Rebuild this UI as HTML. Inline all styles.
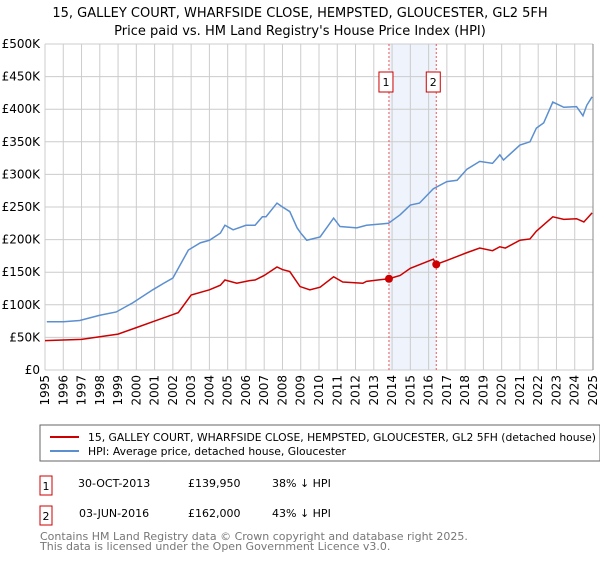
<!DOCTYPE html>
<html><head><meta charset="utf-8"><style>
body{margin:0;background:#fff;font-family:"Liberation Sans","DejaVu Sans",sans-serif;}
svg text{font-family:"DejaVu Sans","Liberation Sans",sans-serif;}
</style></head><body>
<svg width="600" height="560" xmlns="http://www.w3.org/2000/svg">
<text x="300" y="17" font-size="13" text-anchor="middle" fill="#000">15, GALLEY COURT, WHARFSIDE CLOSE, HEMPSTED, GLOUCESTER, GL2 5FH</text>
<text x="300" y="35" font-size="13" text-anchor="middle" fill="#000">Price paid vs. HM Land Registry's House Price Index (HPI)</text>
<g id="plot"></g>
<rect x="40" y="425" width="560" height="36" fill="#fff" stroke="#666"/>
<line x1="50" y1="437" x2="79" y2="437" stroke="#cc0000" stroke-width="2"/>
<text x="88" y="441" font-size="11" textLength="508" lengthAdjust="spacingAndGlyphs">15, GALLEY COURT, WHARFSIDE CLOSE, HEMPSTED, GLOUCESTER, GL2 5FH (detached house)</text>
<line x1="50" y1="451" x2="79" y2="451" stroke="#5b8fd0" stroke-width="2"/>
<text x="88" y="455" font-size="11" textLength="258" lengthAdjust="spacingAndGlyphs">HPI: Average price, detached house, Gloucester</text>
<g font-size="11">
<rect x="40" y="476" width="12" height="19" fill="#fff" stroke="#cc0000"/>
<text x="46" y="490" text-anchor="middle">1</text>
<text x="78" y="487">30-OCT-2013</text><text x="188" y="487">£139,950</text><text x="272" y="487">38% ↓ HPI</text>
</g>
<g font-size="11">
<rect x="40" y="506" width="12" height="19" fill="#fff" stroke="#cc0000"/>
<text x="46" y="520" text-anchor="middle">2</text>
<text x="79" y="517">03-JUN-2016</text><text x="188" y="517">£162,000</text><text x="272" y="517">43% ↓ HPI</text>
</g>
<text x="40" y="540" font-size="11" fill="#777">Contains HM Land Registry data © Crown copyright and database right 2025.</text>
<text x="40" y="550" font-size="11" fill="#777">This data is licensed under the Open Government Licence v3.0.</text>
</svg>
<script>
const hpiYears=[1995.1,1996,1996.9,1998,1998.9,1999.8,2000.9,2001.5,2002,2002.85,2003.5,2004,2004.6,2004.85,2005.3,2006,2006.5,2006.9,2007.1,2007.7,2008,2008.4,2008.8,2009,2009.33,2010.06,2010.8,2011.15,2012.07,2012.6,2013.8,2014.44,2015,2015.5,2016.26,2017,2017.56,2018.1,2018.8,2019.5,2019.9,2020.1,2021,2021.55,2021.9,2022.3,2022.8,2023.4,2024.1,2024.45,2024.66,2024.95];
const hpiValues=[74,74,76,84,89,103,123,133,141,184,195,199,210,222,215,222,222,235,235,256,250,243,218,210,199,204,233,220,218,222,225,238,253,256,278,289,291,308,320,317,330,322,345,350,371,379,411,403,404,390,406,419];
const propYears=[1995,1996,1997,1998,1999,2000,2001,2002,2002.3,2003,2004,2004.6,2004.85,2005.5,2006.2,2006.5,2007,2007.7,2008,2008.4,2008.96,2009.5,2010.06,2010.8,2011.3,2012.4,2012.6,2013.83,2014.44,2015,2016.26,2016.42,2017,2018.1,2018.8,2019.5,2019.9,2020.2,2021,2021.55,2021.9,2022.8,2023.4,2024.1,2024.5,2024.95];
const propValues=[45,46,47,51,55,65,75,85,88,115,123,130,138,133,137,138,145,158,154,151,128,123,127,143,135,133,136,139.95,145,156,170,162,168,180,187,183,189,187,199,201,213,235,231,232,227,241];
const saleYears=[2013.83,2016.42];
const saleValues=[139.95,162];
const saleLabels=["1","2"];
const yTicks=[0,50,100,150,200,250,300,350,400,450,500];
const yTickLabels=["£0","£50K","£100K","£150K","£200K","£250K","£300K","£350K","£400K","£450K","£500K"];
const xTicks=[1995,1996,1997,1998,1999,2000,2001,2002,2003,2004,2005,2006,2007,2008,2009,2010,2011,2012,2013,2014,2015,2016,2017,2018,2019,2020,2021,2022,2023,2024,2025];

const L=45,R=593,T=44,B=370;
const xs=y=>L+(y-1995)/30*(R-L);
const ys=v=>B-v/500*(B-T);
const NS="http://www.w3.org/2000/svg";
const g=document.getElementById('plot');
function mk(tag,attrs){const e=document.createElementNS(NS,tag);for(const k in attrs)e.setAttribute(k,attrs[k]);g.appendChild(e);return e;}
let e=mk('rect',{x:xs(saleYears[0]),y:T,width:xs(saleYears[1])-xs(saleYears[0]),height:B-T,fill:'#eef3fc'});


yTicks.forEach((t,i)=>{
 let l=mk('line',{x1:L,x2:R,y1:ys(t),y2:ys(t),stroke:'#cccccc'});
 
 
 let tx=mk('text',{x:40,y:ys(t)+4,'font-size':12,'text-anchor':'end',fill:'#000'});
 tx.textContent=yTickLabels[i];
 
 
});
xTicks.forEach(t=>{
 let l=mk('line',{x1:xs(t),x2:xs(t),y1:T,y2:B,stroke:'#cccccc'});
 
 
 let tx=mk('text',{x:0,y:0,'font-size':12,'text-anchor':'end',transform:`translate(${xs(t)+4},375) rotate(-90)`});
 tx.textContent=t;
 
 
});
saleYears.forEach((y,i)=>{
 let l=mk('line',{x1:xs(y),x2:xs(y),y1:T,y2:B,stroke:'#ee5555','stroke-dasharray':'2,2'});
 
 
 let r=mk('rect',{x:xs(y)-10,y:72,width:14,height:20,fill:'#fff',stroke:'#cc0000'});
 
 
 let t=mk('text',{x:xs(y)-3,y:86,'font-size':11,'text-anchor':'middle'});
 t.textContent=saleLabels[i];
 
 
});
let p1=mk('polyline',{points:hpiYears.map((y,i)=>xs(y)+','+ys(hpiValues[i])).join(' '),fill:'none',stroke:'#5b8fd0','stroke-width':1.5});


let p2=mk('polyline',{points:propYears.map((y,i)=>xs(y)+','+ys(propValues[i])).join(' '),fill:'none',stroke:'#cc0000','stroke-width':1.5});


saleYears.forEach((y,i)=>{
 let c=mk('circle',{cx:xs(y),cy:ys(saleValues[i]),r:4,fill:'#cc0000'});
 
 
});
let ax=mk('line',{x1:R,x2:R,y1:T,y2:B,stroke:'#888'});


</script>
</body></html>
